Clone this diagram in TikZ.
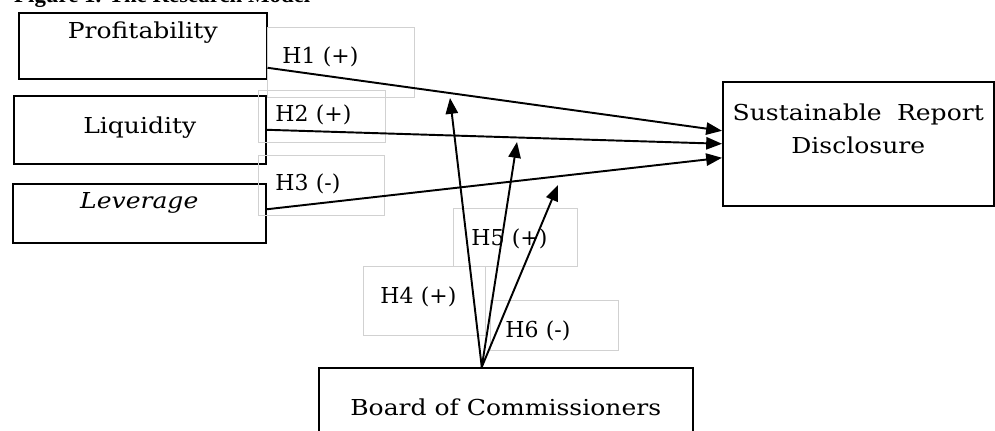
\documentclass[tikz,border=0pt]{standalone}
\usepackage{fontspec}
\setmainfont{DejaVu Serif}
\newfontfamily\boxfont[FakeStretch=1.14]{DejaVu Serif}
\newfontfamily\titlefont{Liberation Serif}
\usetikzlibrary{ arrows.meta, % For the triangle arrow tips
               }

\begin{document}
\begin{tikzpicture}[x=0.02cm, y=-0.02cm,
    var/.style={draw, line width=0.9pt, inner sep=0pt, anchor=north west,
                font=\boxfont\fontsize{12.5}{14}\selectfont, align=center},
    hyp/.style={draw=black!18, line width=0.5pt, inner ysep=0pt, anchor=north west,
                font=\fontsize{12.5}{14}\selectfont, align=left},
    link/.style={line width=1.1pt, -{Triangle[length=9pt,width=7pt]}}]
    \useasboundingbox (0,0) rectangle (995,430);
    \clip (0,0) rectangle (995,430);
    \node[anchor=base west, font=\titlefont\bfseries\fontsize{13}{15}\selectfont] (title) at (8,2.5) {Figure 1. The Research Model};
    \node[var, minimum width=4.96cm, text height=.52cm, text depth=.8cm] (prof) at (18,12) {Profitability};
    \node[var, minimum width=5.04cm, text height=.76cm, text depth=.6cm] (liq) at (13,95) {Liquidity};
    \node[var, minimum width=5.06cm, text height=.5cm, text depth=.68cm] (lev) at (12,183) {\itshape Leverage};
    \node[var, minimum width=5.42cm, text height=1.44cm, text depth=1.04cm] (srd) at (722,81) {Sustainable\hspace{0.7em}Report\\[5pt]Disclosure};
    \node[var, minimum width=7.48cm, text height=.96cm, text depth=1cm] (board) at (318,367) {Board of Commissioners};
    \node[hyp, inner xsep=.3cm, text width=2.34cm, text height=.72cm, text depth=.68cm] (h1) at (267,27) {H1 (+)};
    \node[hyp, inner xsep=.34cm, text width=1.86cm, text height=.62cm, text depth=.42cm] (h2) at (258,90) {H2 (+)};
    \node[hyp, inner xsep=.34cm, text width=1.84cm, text height=.7cm, text depth=.5cm] (h3) at (258,155) {H3 (-)};
    \node[hyp, inner xsep=.34cm, text width=1.76cm, text height=.74cm, text depth=.64cm] (h4) at (363,266) {H4 (+)};
    \node[hyp, inner xsep=.36cm, text width=1.76cm, text height=.74cm, text depth=.42cm] (h5) at (453,208) {H5 (+)};
    \node[hyp, inner xsep=.3cm, text width=1.96cm, text height=.74cm, text depth=.26cm] (h6) at (490,300) {H6 (-)};
    \coordinate (h4end) at (450,98);
    \coordinate (h5end) at (517,142);
    \coordinate (h6end) at (558,185);
    \draw[link] ([yshift=-0.44cm]prof.east) -- ([yshift=0.26cm]srd.west);
    \draw[link] (liq.east) -- (srd.west);
    \draw[link] ([yshift=0.08cm]lev.east) -- ([yshift=-0.28cm]srd.west);
    \draw[link] ([xshift=-0.48cm]board.north) -- (h4end);
    \draw[link] ([xshift=-0.48cm]board.north) -- (h5end);
    \draw[link] ([xshift=-0.48cm]board.north) -- (h6end);
  \end{tikzpicture}
\end{document}
